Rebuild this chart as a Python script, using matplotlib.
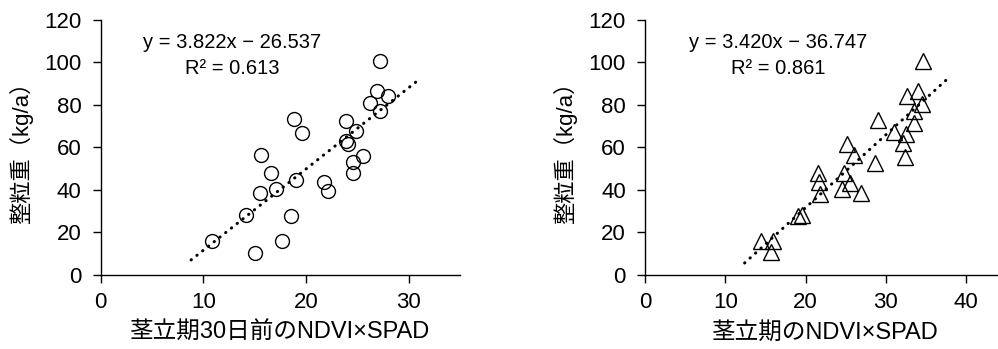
import numpy as np
import matplotlib
matplotlib.use("Agg")
import matplotlib.pyplot as plt

plt.rcParams['font.family'] = ['Liberation Sans', 'Noto Sans CJK JP', 'DejaVu Sans']

# 茎立期30日前 (circles)
x_before = [27.2, 26.9, 28.0, 26.2, 27.2, 18.8, 23.9, 19.6, 24.9, 23.9, 24.1,
            15.6, 25.5, 24.6, 16.6, 24.6, 19.0, 21.7, 17.1, 22.1, 15.5, 14.1,
            18.5, 10.8, 17.7, 15.0]
y_before = [100.8, 86.7, 84.4, 80.8, 77.3, 73.4, 72.3, 66.7, 67.7, 63.0, 61.4,
            56.4, 55.9, 53.3, 48.0, 48.0, 44.5, 43.9, 40.6, 39.4, 38.4, 28.3,
            27.7, 16.1, 16.1, 10.5]

# 茎立期 (triangles)
x_stem = [34.7, 34.0, 32.7, 34.5, 33.5, 33.6, 29.0, 31.1, 32.5, 32.2, 25.2,
          26.0, 32.4, 28.7, 21.6, 24.8, 21.7, 25.5, 24.5, 26.9, 21.8, 19.1,
          19.6, 14.4, 16.0, 15.7]
y_stem = [100.5, 86.4, 84.1, 80.5, 77.3, 71.6, 73.1, 67.3, 66.4, 62.2, 61.4,
          56.4, 55.6, 52.8, 48.1, 47.8, 43.9, 43.4, 40.3, 38.8, 38.0, 27.8,
          28.3, 15.8, 15.8, 10.6]

fit_before = (3.822, -26.537, 0.613)
fit_stem = (3.420, -36.747, 0.861)

xlabels = ["茎立期30日前のNDVI×SPAD", "茎立期のNDVI×SPAD"]
ylabel = "整粒重（kg/a）"


def fmt_eq(a, b):
    return f"y = {a:.3f}x − {abs(b):.3f}"


fig = plt.figure(figsize=(9.98, 3.49), dpi=100)
ax1 = fig.add_axes([0.101, 0.212, 0.360, 0.731])
ax2 = fig.add_axes([0.6466, 0.212, 0.3612, 0.731])

panels = [
    (ax1, x_before, y_before, fit_before, 'o', 10, 35, xlabels[0], (12.8, 109.5)),
    (ax2, x_stem, y_stem, fit_stem, '^', 11, 45, xlabels[1], (16.6, 109.5)),
]

for ax, xs, ys, fit, mk, ms, xmax, xl, txt in panels:
    xs = np.array(xs)
    a, b, r2 = fit
    lx = np.array([xs.min() - 2, xs.max() + 2.8])
    ax.plot(lx, a * lx + b, color='black', lw=2.2,
            linestyle=(0, (0.1, 2.3)), dash_capstyle='round', zorder=1)
    ax.plot(xs, ys, linestyle='none', marker=mk, markersize=ms,
            markerfacecolor='none', markeredgecolor='black',
            markeredgewidth=1.0, zorder=2)
    ax.set_xlim(0, xmax)
    ax.set_ylim(0, 120)
    ax.set_xticks([0, 10, 20, 30, 40][:int(xmax // 10) + 1])
    ax.set_yticks(range(0, 121, 20))
    for s in ['top', 'right']:
        ax.spines[s].set_visible(False)
    for s in ['left', 'bottom']:
        ax.spines[s].set_linewidth(1.0)
    ax.tick_params(direction='out', length=6, width=1.0, labelsize=16)
    ax.tick_params(axis='x', pad=6)
    ax.tick_params(axis='y', pad=8)
    ax.set_xlabel(xl, fontsize=17, va='center')
    ax.set_ylabel(ylabel, fontsize=16, va='center')
    ax.xaxis.set_label_coords(0.5, -0.226)
    ax.yaxis.set_label_coords(-0.222, 0.5)
    ax.text(txt[0], txt[1], fmt_eq(a, b), ha='center', va='center', fontsize=14.5)
    ax.text(txt[0], txt[1] - 12.5, f"R² = {r2:.3f}", ha='center', va='center', fontsize=14.5)

fig.savefig("out.png", dpi=100)
